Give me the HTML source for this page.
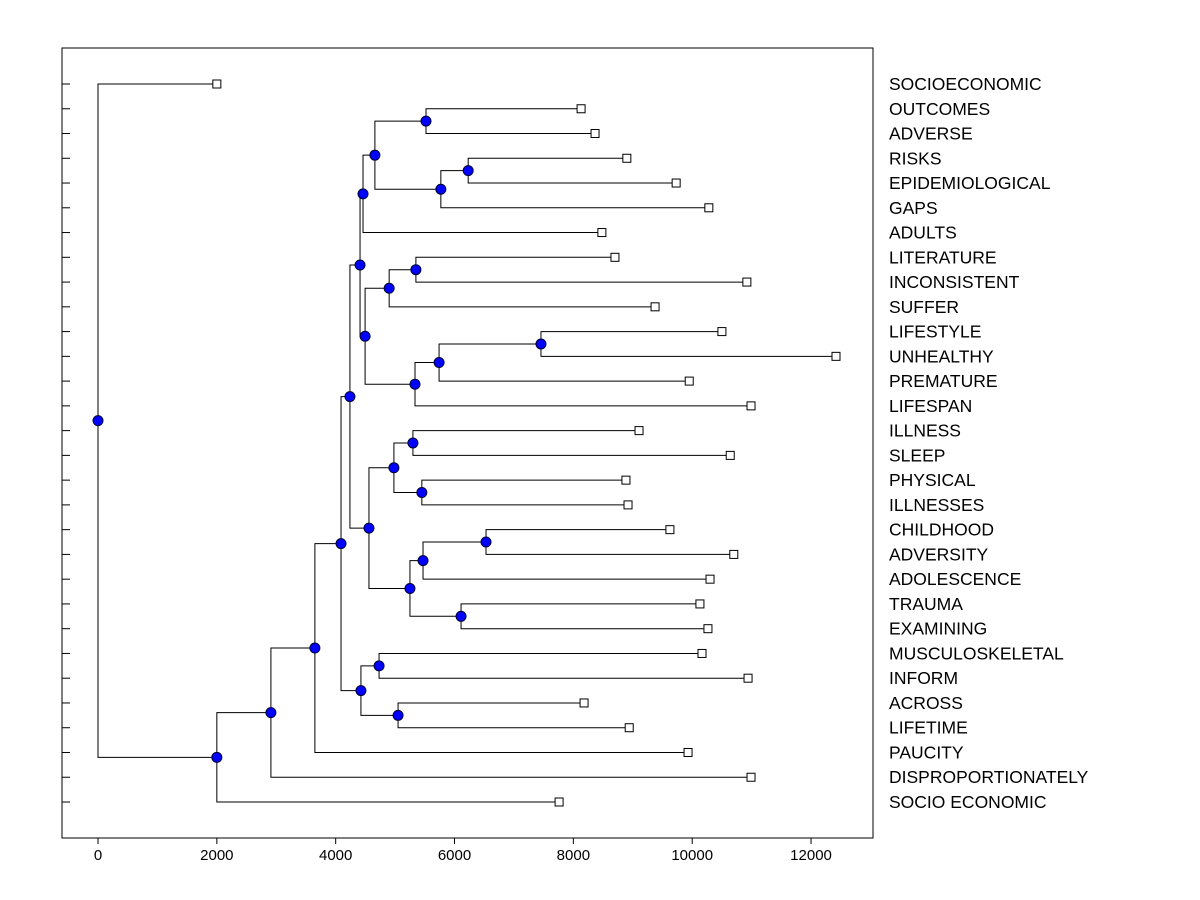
<!DOCTYPE html>
<html><head><meta charset="utf-8"><style>
html,body{margin:0;padding:0;background:#fff;}
svg{display:block;font-family:"Liberation Sans",Arial,sans-serif;}
</style></head><body>
<svg id="chart" width="1200" height="900" viewBox="0 0 1200 900"></svg>
<script>
const labels = ["SOCIOECONOMIC","OUTCOMES","ADVERSE","RISKS","EPIDEMIOLOGICAL","GAPS","ADULTS","LITERATURE","INCONSISTENT","SUFFER","LIFESTYLE","UNHEALTHY","PREMATURE","LIFESPAN","ILLNESS","SLEEP","PHYSICAL","ILLNESSES","CHILDHOOD","ADVERSITY","ADOLESCENCE","TRAUMA","EXAMINING","MUSCULOSKELETAL","INFORM","ACROSS","LIFETIME","PAUCITY","DISPROPORTIONATELY","SOCIO ECONOMIC"];
const leafValues = [2000,8130,8365,8900,9730,10280,8480,8700,10920,9375,10500,12420,9950,10990,9105,10640,8885,8920,9625,10700,10300,10130,10265,10165,10940,8180,8940,9930,10990,7760];
const merges = [
 [1,2,5520],[3,4,6230],["n1",5,5770],["n0","n2",4660],["n3",6,4460],
 [7,8,5350],["n5",9,4900],[10,11,7455],["n7",12,5740],["n8",13,5335],
 ["n6","n9",4495],["n4","n10",4410],[14,15,5300],[16,17,5450],["n12","n13",4980],
 [18,19,6530],["n15",20,5470],[21,22,6110],["n16","n17",5250],["n14","n18",4560],
 ["n11","n19",4240],[23,24,4730],[25,26,5050],["n21","n22",4425],["n20","n23",4090],
 ["n24",27,3650],["n25",28,2910],["n26",29,2000],[0,"n27",0]
];
const xTicks = [0,2000,4000,6000,8000,10000,12000];

const svg = document.getElementById('chart');
const NS = "http://www.w3.org/2000/svg";
const L=62,T=48,R=873,B=838;
const xs = v => 98 + v*0.05942;
const ys = i => 84 + i*(802-84)/29;
function el(tag, attrs){const e=document.createElementNS(NS,tag);for(const k in attrs)e.setAttribute(k,attrs[k]);svg.appendChild(e);return e;}

const frame = el('rect',{x:L,y:T,width:R-L,height:B-T,fill:'none',stroke:'#000','stroke-width':1});



xTicks.forEach(v=>{
  const t=el('line',{x1:xs(v),x2:xs(v),y1:B,y2:B+6,stroke:'#000'});
  
  
  const tx=el('text',{x:xs(v),y:B+22,'text-anchor':'middle','font-size':15});
  tx.textContent=v;
  
  
});
labels.forEach((lab,i)=>{
  const t=el('line',{x1:L,x2:L+8,y1:ys(i),y2:ys(i),stroke:'#000'});
  
  
  const tx=el('text',{x:889,y:ys(i)+6,'font-size':17.5});
  tx.textContent=lab;
  
  
});

const nodes=[];
function pos(c){ if(typeof c==='number') return {x:xs(leafValues[c]),y:ys(c)}; return nodes[+c.slice(1)]; }
const dots=[];
merges.forEach(m=>{
  const a=pos(m[0]), b=pos(m[1]);
  const nx=xs(m[2]), ny=(a.y+b.y)/2;
  const p=el('polyline',{points:`${a.x},${a.y} ${nx},${a.y} ${nx},${b.y} ${b.x},${b.y}`,fill:'none',stroke:'#000','stroke-width':1});
  
  
  nodes.push({x:nx,y:ny});
  dots.push([nx,ny]);
});
leafValues.forEach((v,i)=>{
  const r=el('rect',{x:xs(v)-4,y:ys(i)-4,width:8,height:8,fill:'#fff',stroke:'#000'});
  
  
});
dots.forEach(d=>{
  const c=el('circle',{cx:d[0],cy:d[1],r:5,fill:'#0000ff',stroke:'#000033','stroke-width':1});
  
  
});
</script>
</body></html>
